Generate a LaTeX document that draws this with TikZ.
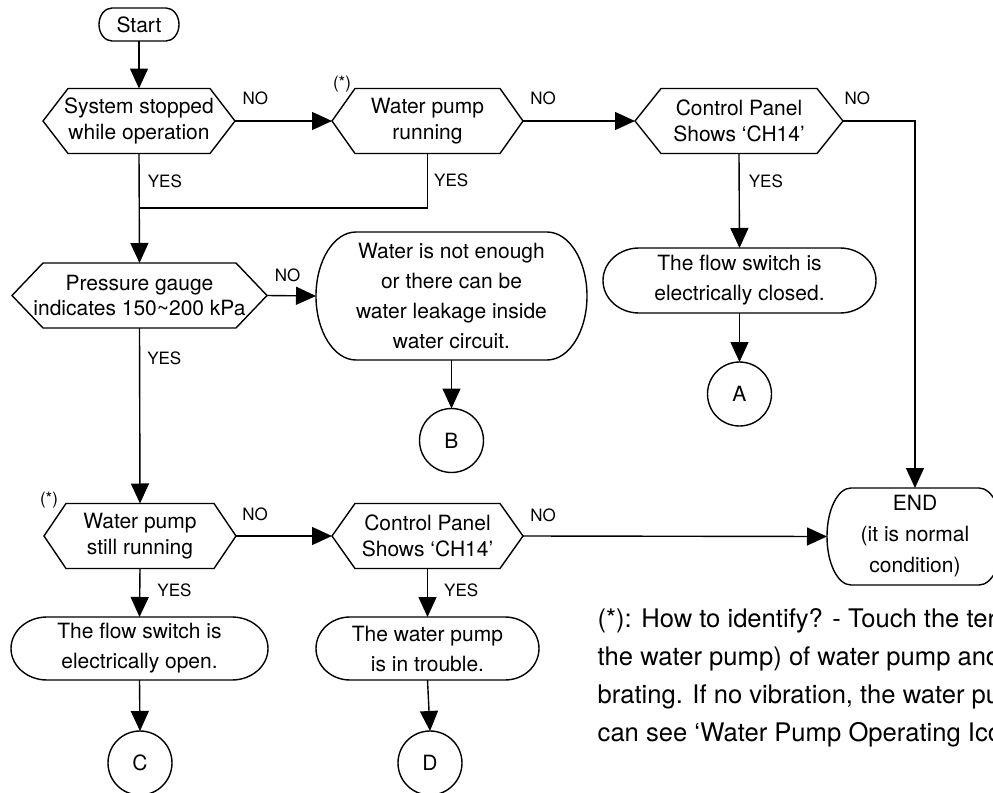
\documentclass[tikz,border=0pt]{standalone}
\usepackage{fontspec}
\setmainfont{TeX Gyre Heros}
\usetikzlibrary{arrows.meta,calc}

% outlines drawn round a named node: hexagon (decision) and capsule (terminal)
\newcommand{\hexa}[2]{%
  \draw (#1.west) -- ([xshift=#2]#1.north west) -- ([xshift=-#2]#1.north east)
    -- (#1.east) -- ([xshift=-#2]#1.south east) -- ([xshift=#2]#1.south west) -- cycle;}
\newcommand{\capsule}[3]{%
  \draw ([xshift=#2]#1.north west) -- ([xshift=-#2]#1.north east)
    arc[start angle=90,end angle=-90,x radius=#2,y radius=#3]
    -- ([xshift=#2]#1.south west)
    arc[start angle=270,end angle=90,x radius=#2,y radius=#3] -- cycle;}

\begin{document}
\begin{tikzpicture}[
    x=0.5pt, y=0.5pt, line width=0.7pt,
    dec/.style={inner sep=0pt, outer sep=0pt, align=center, font=\fontsize{10.5}{13}\selectfont},
    term/.style={inner sep=0pt, outer sep=0pt, align=center, font=\fontsize{10.5}{15}\selectfont},
    conn/.style={draw, circle, minimum size=32pt, inner sep=0pt, outer sep=0pt, font=\fontsize{10.5}{13}\selectfont},
    lbl/.style={inner sep=0pt, font=\fontsize{8.5}{10}\selectfont},
    arr/.style={-{Triangle[length=10pt, width=9pt]}}
]
\useasboundingbox (0,0) rectangle (993,-793);
\clip (0,0) rectangle (993,-793);

% top row
\node[term, minimum width=40pt, minimum height=16.5pt] (start) at (139,-24.5) {Start};
\capsule{start}{6.5pt}{8.25pt}
\node[dec, minimum width=96pt, minimum height=32.5pt] (d1) at (139,-121) {System stopped\\while operation};
\hexa{d1}{12.5pt}
\node[dec, minimum width=95.5pt, minimum height=32.5pt] (d2) at (427.5,-121) {Water pump\\running};
\hexa{d2}{11.5pt}
\node[lbl] (star2) at ([xshift=5pt,yshift=2pt]d2.north west) {(*)};
\node[dec, minimum width=104pt, minimum height=32.5pt] (d4) at (739,-121) {Control Panel\\Shows ‘CH14’};
\hexa{d4}{13pt}

% middle
\node[dec, minimum width=127.5pt, minimum height=32.5pt] (d3) at (139.5,-295.5) {Pressure gauge\\indicates 150\textasciitilde200 kPa};
\hexa{d3}{15.5pt}
\node[term, minimum width=135.5pt, minimum height=64pt] (o1) at (451.5,-296) {Water is not enough\\or there can be\\water leakage inside\\water circuit.};
\capsule{o1}{20pt}{32pt}
\node[conn] (conB) at (451.5,-440.5) {B};
\node[term, minimum width=136.5pt, minimum height=32.5pt] (o2) at (739.5,-280.5) {The flow switch is\\electrically closed.};
\capsule{o2}{18pt}{16.25pt}
\node[conn] (conA) at (739.5,-394) {A};

% bottom row
\node[dec, minimum width=96pt, minimum height=32.5pt] (d5) at (140,-536) {Water pump\\still running};
\hexa{d5}{11pt}
\node[lbl] (star5) at ([xshift=2.5pt,yshift=1.5pt]d5.north west) {(*)};
\node[dec, minimum width=95.5pt, minimum height=32.5pt] (d6) at (427.5,-536) {Control Panel\\Shows ‘CH14’};
\hexa{d6}{11.5pt}
\node[term, minimum width=88pt, minimum height=48.5pt, font=\fontsize{10.5}{15.5}\selectfont] (finish) at (915,-536.5) {END\\(it is normal\\condition)};
\capsule{finish}{12pt}{24.25pt}
\node[term, minimum width=128.5pt, minimum height=31.5pt] (o3) at (139.5,-648.5) {The flow switch is\\electrically open.};
\capsule{o3}{18pt}{15.75pt}
\node[term, minimum width=111.5pt, minimum height=31.5pt] (o4) at (427.5,-648.5) {The water pump\\is in trouble.};
\capsule{o4}{17pt}{15.75pt}
\node[conn] (conC) at (140,-763) {C};
\node[conn] (conD) at (430,-763) {D};

\node[anchor=north west, inner sep=0pt, align=left, font=\fontsize{12.8}{19}\selectfont] (note) at (597,-608)
  {(*): How to identify? - Touch the ter\\the water pump) of water pump and\\brating. If no vibration, the water pu\\can see ‘Water Pump Operating Ico};

% connectors
\coordinate (join) at (139,-208);
\draw[arr] (start.south) -- (d1.north);
\draw[arr] (d1.east) -- node[lbl, pos=0.21, above=7.5pt] (no1) {NO} (d2.west);
\draw[arr] (d2.east) -- node[lbl, pos=0.18, above=7.5pt] (no2) {NO} (d4.west);
\draw[arr] (d1.south) -- node[lbl, pos=0.25, right=4pt] (yes1) {YES} (d3.north);
\draw (d2.south) |- node[lbl, pos=0.25, right=3pt] (yes2) {YES} (join);
\draw[arr] (d4.south) -- node[lbl, pos=0.29, right=4.5pt] (yes4) {YES} (o2.north);
\draw[arr] (d4.east) -| node[lbl, pos=0.1, above=7.5pt] (no4) {NO} (finish.north);
\draw[arr] (o2.south) -- (conA.north);
\draw[arr] (d3.east) -- node[lbl, pos=0.42, above=6.5pt] (no3) {NO} (o1.west);
\draw[arr] (o1.south) -- (conB.north);
\draw[arr] (d3.south) -- node[lbl, pos=0.17, right=3.5pt] (yes3) {YES} (d5.north);
\draw[arr] (d5.east) -- node[lbl, pos=0.2, above=7pt] (no5) {NO} (d6.west);
\draw[arr] (d6.east) -- node[lbl, pos=0.066, above=7pt] (no6) {NO} (finish.west);
\draw[arr] (d5.south) -- node[lbl, pos=0.45, right=8.5pt] (yes5) {YES} (o3.north);
\draw[arr] (d6.south) -- node[lbl, pos=0.45, right=8pt] (yes6) {YES} (o4.north);
\draw[arr] (o3.south) -- (conC.north);
\draw[arr] (o4.south) -- (conD.north);
\end{tikzpicture}
\end{document}
